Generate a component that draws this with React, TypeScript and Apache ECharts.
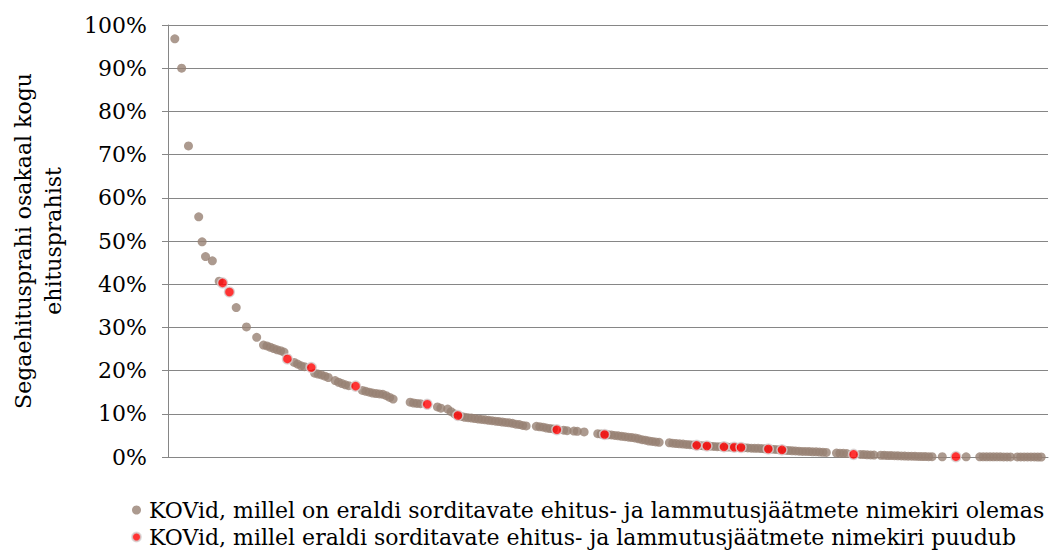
import React, { useEffect, useRef } from "react";
import * as echarts from "echarts";

const yTicks = [0, 10, 20, 30, 40, 50, 60, 70, 80, 90, 100];

const seriesNames = [
  "KOVid, millel on eraldi sorditavate ehitus- ja lammutusjäätmete nimekiri olemas",
  "KOVid, millel eraldi sorditavate ehitus- ja lammutusjäätmete nimekiri puudub",
];

// rank positions (x) and values (%) for municipalities with a list
const greyRanks = [
  0, 2, 4, 7, 8, 9, 11, 13, 18, 21, 24, 26, 27, 28, 29, 30, 31, 32, 35, 36, 37, 38,
  41, 42, 43, 44, 45, 47, 48, 49, 50, 51, 55, 56, 57, 58, 59, 60, 61, 62, 63, 64,
  69, 70, 71, 72, 77, 78, 80, 81, 82, 84, 85, 86, 87, 88, 89, 90, 91, 92, 93, 94,
  95, 96, 97, 98, 99, 100, 101, 102, 103, 106, 107, 108, 109, 110, 111, 114, 115,
  117, 118, 120, 124, 125, 127, 128, 129, 130, 131, 132, 133, 134, 135, 136, 137,
  138, 139, 140, 141, 142, 145, 146, 147, 148, 149, 150, 151, 152, 154, 155, 157,
  158, 159, 160, 162, 163, 165, 167, 168, 169, 170, 171, 172, 173, 175, 176, 177,
  179, 180, 181, 182, 183, 184, 185, 186, 187, 188, 189, 190, 191, 194, 195, 196,
  197, 201, 202, 203, 204, 205, 207, 208, 209, 210, 211, 212, 213, 214, 215, 216,
  217, 218, 219, 220, 221, 222, 225, 232, 236, 237, 238, 239, 240, 241, 242, 243,
  244, 245, 247, 248, 249, 250, 251, 252, 253, 254,
];
const greyValues = [
  96.8, 90.0, 72.0, 55.6, 49.8, 46.4, 45.4, 40.7, 34.6, 30.1, 27.7, 25.9, 25.7, 25.4, 25.1, 24.8, 24.6, 24.3, 21.9, 21.5, 21.1, 20.9,
  19.4, 19.2, 19.0, 18.7, 18.4, 17.7, 17.3, 17.0, 16.7, 16.5, 15.4, 15.2, 15.0, 14.8, 14.7, 14.6, 14.5, 14.2, 13.8, 13.4,
  12.7, 12.5, 12.4, 12.35, 11.6, 11.3, 11.1, 10.5, 10.0, 9.4, 9.2, 9.1, 9.0, 8.9, 8.8, 8.7, 8.6, 8.5, 8.4, 8.3,
  8.2, 8.1, 8.0, 7.9, 7.8, 7.6, 7.5, 7.3, 7.2, 7.1, 7.0, 6.9, 6.7, 6.6, 6.5, 6.2, 6.1,
  6.0, 5.95, 5.8, 5.4, 5.3, 5.15, 5.1, 5.0, 4.9, 4.8, 4.7, 4.6, 4.5, 4.4, 4.2, 4.0,
  3.9, 3.7, 3.6, 3.5, 3.4, 3.3, 3.2, 3.1, 3.05, 3.0, 2.9, 2.85, 2.8, 2.65, 2.6, 2.5,
  2.45, 2.4, 2.4, 2.3, 2.28, 2.22, 2.15, 2.1, 2.05, 2.0, 2.0, 1.95, 1.9, 1.8, 1.75, 1.7,
  1.55, 1.5, 1.45, 1.4, 1.35, 1.3, 1.3, 1.25, 1.2, 1.2, 1.15, 1.1, 1.05, 0.9, 0.88, 0.85,
  0.8, 0.6, 0.55, 0.5, 0.48, 0.45, 0.4, 0.38, 0.35, 0.33, 0.3, 0.28, 0.25, 0.22, 0.2, 0.18,
  0.16, 0.14, 0.12, 0.1, 0.08, 0.07, 0.06, 0.05, 0.04, 0.04, 0.04, 0.03, 0.03, 0.03, 0.03, 0.02,
  0.02, 0.02, 0.02, 0.02, 0.01, 0.01, 0.01, 0.01, 0.0, 0.0,
];

// rank positions (x) and values (%) for municipalities without a list
const redRanks = [14, 16, 33, 40, 53, 74, 83, 112, 126, 153, 156, 161, 164, 166, 174, 178, 199, 229];
const redValues = [40.3, 38.2, 22.7, 20.7, 16.4, 12.2, 9.6, 6.3, 5.2, 2.7, 2.55, 2.35, 2.25, 2.2, 1.85, 1.65, 0.6, 0.08];

const FONT = "DejaVu Serif";

export default function App() {
  const ref = useRef<HTMLDivElement>(null);

  useEffect(() => {
    document.body.style.margin = "0";
    if (!ref.current) return;
    const chart = echarts.init(ref.current, undefined, { renderer: "svg" });
    const offset = 2;
    const greyData = greyRanks.map((r, i) => [r + offset, greyValues[i]]);
    const redData = redRanks.map((r, i) => [r + offset, redValues[i]]);

    chart.setOption({
      animation: false,
      backgroundColor: "#ffffff",
      grid: { left: 158, right: 4, top: 25, bottom: 95, containLabel: false },
      legend: {
        orient: "vertical",
        left: 126,
        top: 494,
        height: 60,
        itemWidth: 9,
        itemHeight: 9,
        itemGap: 5,
        icon: "circle",
        textStyle: { fontFamily: FONT, fontSize: 22, color: "#000", padding: [0, 0, 0, 3] },
        data: seriesNames,
      },
      xAxis: {
        type: "value",
        min: 0,
        max: 258,
        axisLine: { show: true, lineStyle: { color: "#868686", width: 1 } },
        axisTick: { show: false },
        axisLabel: { show: false },
        splitLine: { show: false },
      },
      yAxis: {
        type: "value",
        min: yTicks[0],
        max: yTicks[yTicks.length - 1],
        interval: 10,
        name: "Segaehitusprahi osakaal kogu\nehitusprahist",
        nameLocation: "middle",
        nameGap: 100,
        nameTextStyle: { fontFamily: FONT, fontSize: 22, color: "#000", lineHeight: 30 },
        axisLine: { show: true, lineStyle: { color: "#868686", width: 1 } },
        axisTick: { show: true, inside: false, length: 6, lineStyle: { color: "#868686" } },
        axisLabel: {
          formatter: "{value}%",
          margin: 21,
          fontFamily: FONT,
          fontSize: 22,
          color: "#000",
        },
        splitLine: { show: true, lineStyle: { color: "#868686", width: 1.2 } },
      },
      series: [
        {
          name: seriesNames[0],
          type: "scatter",
          data: greyData,
          symbol: "circle",
          symbolSize: 9,
          itemStyle: { color: "#978173" },
          z: 2,
        },
        {
          name: seriesNames[1],
          type: "scatter",
          data: redData,
          symbol: "circle",
          symbolSize: 10,
          itemStyle: { color: "#ff0000", borderColor: "#d6d6d6", borderWidth: 1.5 },
          z: 3,
        },
      ],
    });
    return () => chart.dispose();
  }, []);

  return <div ref={ref} style={{ width: 1052, height: 552 }} />;
}
